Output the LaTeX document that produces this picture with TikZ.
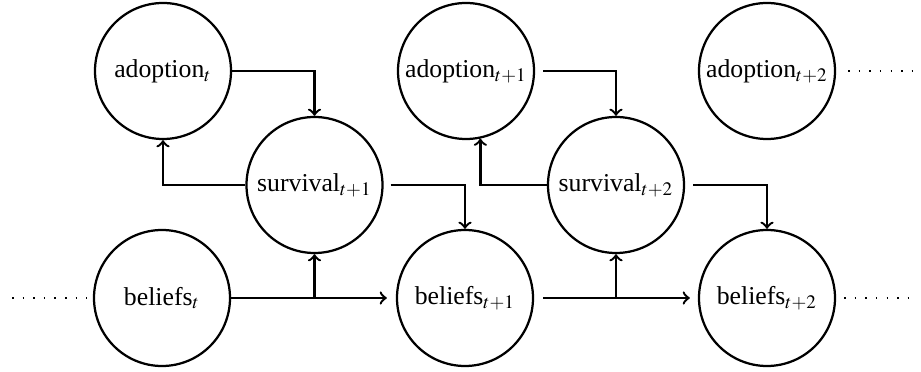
\documentclass[tikz,border=0pt]{standalone}
\usepackage{mathptmx}
\usepackage[no-math]{fontspec}
\setmainfont{Liberation Serif}
\begin{document}
\begin{tikzpicture}[x=0.4pt,y=-0.4pt,
  state/.style={circle,draw,line width=0.9pt,minimum size=54.4pt,inner sep=0pt,font=\fontsize{10.3}{12}\selectfont},
  conn/.style={line width=0.95pt,->},
  dots/.style={line width=0.6pt,dash pattern=on 0.6pt off 3.64pt}]
\useasboundingbox (0,0) rectangle (921,372);
\node[state] (a0) at (163,71) {adoption$_{t}$};
\node[state] (a1) at (466,71) {adoption$_{t+1}$};
\node[state] (a2) at (767,71) {adoption$_{t+2}$};
\node[state] (s1) at (314.5,185) {survival$_{t+1}$};
\node[state] (s2) at (616,185) {survival$_{t+2}$};
\node[state] (b0) at (162,298) {beliefs$_{t}$};
\node[state] (b1) at (465,298) {beliefs$_{t+1}$};
\node[state] (b2) at (767,298) {beliefs$_{t+2}$};
% first slice
\draw[conn] (a0.east) -| (s1.north);
\draw[conn] (s1.west) -| (a0.south);
\draw[conn,shorten <=2.8pt] (s1.east) -| (b1.north);
\draw[conn,shorten >=3.6pt] (b0.east) -- (b1.west);
\draw[conn] (b0.east -| s1.south) -- (s1.south);
% second slice
\draw[conn,shorten <=3.2pt] (a1.east) -| (s2.north);
\draw[conn] (s2.west) -| (a1.-78);
\draw[conn,shorten <=3.2pt] (s2.east) -| (b2.north);
\draw[conn,shorten <=3.6pt,shorten >=3.2pt] (b1.east) -- (b2.west);
\draw[conn] (b1.east -| s2.south) -- (s2.south);
% dotted continuations
\coordinate (l0) at (12,298);
\coordinate (r0) at (918,71);
\coordinate (r1) at (918,298);
\draw[dots] (l0) -- ([xshift=-2.6pt]b0.west);
\draw[dots] ([xshift=4.8pt]a2.east) -- (r0);
\draw[dots] ([xshift=3.2pt]b2.east) -- (r1);
\end{tikzpicture}
\end{document}
